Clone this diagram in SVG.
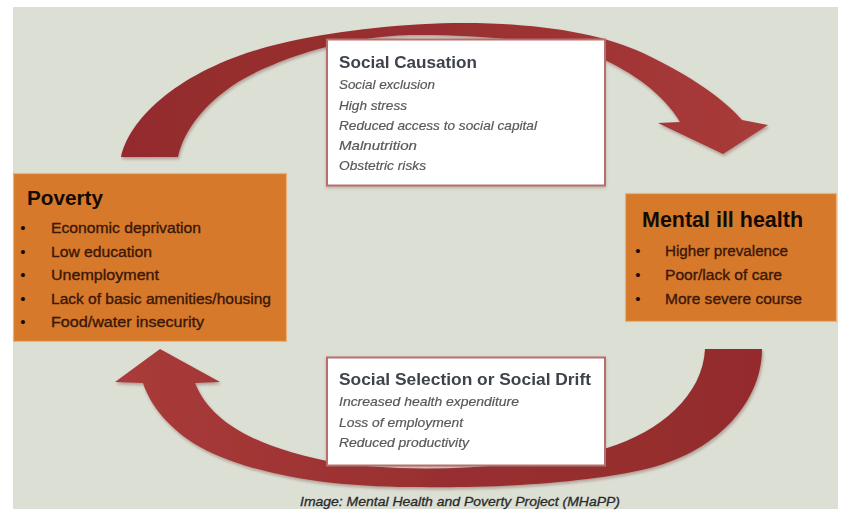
<svg xmlns="http://www.w3.org/2000/svg" width="841" height="517" viewBox="0 0 841 517">
  <defs>
    <linearGradient id="bandTop" x1="0" y1="0" x2="1" y2="0">
      <stop offset="0" stop-color="#942c2d"/>
      <stop offset="0.5" stop-color="#992f30"/>
      <stop offset="1" stop-color="#a93b3a"/>
    </linearGradient>
    <linearGradient id="bandBottom" x1="1" y1="0" x2="0" y2="0">
      <stop offset="0" stop-color="#942c2d"/>
      <stop offset="0.5" stop-color="#992f30"/>
      <stop offset="1" stop-color="#a93b3a"/>
    </linearGradient>
    <filter id="soft" x="-10%" y="-10%" width="120%" height="120%">
      <feDropShadow dx="1" dy="2" stdDeviation="1.5" flood-color="#5a2020" flood-opacity="0.35"/>
    </filter>
    <filter id="boxShadow" x="-5%" y="-5%" width="110%" height="115%">
      <feDropShadow dx="0" dy="1.5" stdDeviation="1.5" flood-color="#6b4a40" flood-opacity="0.3"/>
    </filter>
  </defs>
  <style>
    .panel { fill: #dcdfd4; }
    .orange { fill: #d7792a; stroke: #e9b27e; stroke-width: 1.2; }
    .card { fill: #ffffff; stroke: #b76e6c; stroke-width: 2; }
    .band { stroke: none; }
    .head { font-family: "Liberation Sans", Arial, sans-serif; font-weight: bold; }
    .orangeHead { fill: #140a04; }
    .cardHead { fill: #3e434c; }
    .item { font-family: "Liberation Sans", Arial, sans-serif; font-size: 15.5px; fill: #3a1708; stroke: #3a1708; stroke-width: 0.35; }
    .bullet { font-family: "Liberation Sans", Arial, sans-serif; font-size: 15px; fill: #140a04; text-anchor: middle; }
    .note { font-family: "Liberation Sans", Arial, sans-serif; font-style: italic; font-size: 13.5px; fill: #58585c; stroke: #58585c; stroke-width: 0.2; }
    .caption { font-family: "Liberation Sans", Arial, sans-serif; font-style: italic; font-size: 13px; fill: #2a2a2c; stroke: #2a2a2c; stroke-width: 0.3; }
  </style>

  <rect x="0" y="0" width="841" height="517" fill="#ffffff"/>
  <rect class="panel" x="13" y="7" width="825" height="502"/>

  <g id="connectors">
    <!-- causation arc: poverty towards mental ill health -->
    <path id="arrow-causation" class="band" fill="url(#bandTop)" filter="url(#soft)"
      d="M 121,157 C 132,110 195,62 287,42 C 340,30 410,23 463,23 C 540,23 600,33 643,53 C 690,75 725,100 742,120 L 768,125 L 723,154 L 658,123 L 680,122 C 665,97 640,77 605,60 C 565,42 480,34 410,35 C 340,37 275,60 238,82 C 205,103 184,130 178,157 Z"/>
    <!-- selection / drift arc: mental ill health back to poverty -->
    <path id="arrow-selection" class="band" fill="url(#bandBottom)" filter="url(#soft)"
      d="M 705,349 L 762,349 C 762,400 720,450 650,468 C 580,485 480,488 420,487 C 330,488 250,474 200,447 C 170,430 150,405 143,383 L 115,382 L 160,349 L 220,382 L 195,383 C 210,420 250,445 327,461 C 400,474 520,470 607,448 C 660,432 703,395 705,349 Z"/>
  </g>

  <g id="poverty">
    <rect class="orange" x="13.5" y="173.5" width="273" height="168"/>
    <text class="head orangeHead" x="27" y="205" font-size="20.5" textLength="76" lengthAdjust="spacingAndGlyphs">Poverty</text>
    <text class="bullet" x="23" y="233">•</text>
    <text class="item" x="51" y="233" textLength="150" lengthAdjust="spacingAndGlyphs">Economic deprivation</text>
    <text class="bullet" x="23" y="256.5">•</text>
    <text class="item" x="51" y="256.5" textLength="101" lengthAdjust="spacingAndGlyphs">Low education</text>
    <text class="bullet" x="23" y="280">•</text>
    <text class="item" x="51" y="280" textLength="108" lengthAdjust="spacingAndGlyphs">Unemployment</text>
    <text class="bullet" x="23" y="303.5">•</text>
    <text class="item" x="51" y="303.5" textLength="220" lengthAdjust="spacingAndGlyphs">Lack of basic amenities/housing</text>
    <text class="bullet" x="23" y="327">•</text>
    <text class="item" x="51" y="327" textLength="153" lengthAdjust="spacingAndGlyphs">Food/water insecurity</text>
  </g>

  <g id="mental-ill-health">
    <rect class="orange" x="625.5" y="193.5" width="211" height="128"/>
    <text class="head orangeHead" x="642" y="227" font-size="21.5" textLength="161" lengthAdjust="spacingAndGlyphs">Mental ill health</text>
    <text class="bullet" x="638" y="256">•</text>
    <text class="item" x="665" y="256" textLength="123" lengthAdjust="spacingAndGlyphs">Higher prevalence</text>
    <text class="bullet" x="638" y="280">•</text>
    <text class="item" x="665" y="280" textLength="117" lengthAdjust="spacingAndGlyphs">Poor/lack of care</text>
    <text class="bullet" x="638" y="303.5">•</text>
    <text class="item" x="665" y="303.5" textLength="137" lengthAdjust="spacingAndGlyphs">More severe course</text>
  </g>

  <g id="social-causation" filter="url(#boxShadow)">
    <rect class="card" x="327" y="39.5" width="278" height="146"/>
    <text class="head cardHead" x="339" y="68" font-size="17" textLength="138" lengthAdjust="spacingAndGlyphs">Social Causation</text>
    <text class="note" x="339" y="89" textLength="96" lengthAdjust="spacingAndGlyphs">Social exclusion</text>
    <text class="note" x="339" y="109.5" textLength="68" lengthAdjust="spacingAndGlyphs">High stress</text>
    <text class="note" x="339" y="130" textLength="198" lengthAdjust="spacingAndGlyphs">Reduced access to social capital</text>
    <text class="note" x="339" y="150" textLength="78" lengthAdjust="spacingAndGlyphs">Malnutrition</text>
    <text class="note" x="339" y="170" textLength="87" lengthAdjust="spacingAndGlyphs">Obstetric risks</text>
  </g>

  <g id="social-selection" filter="url(#boxShadow)">
    <rect class="card" x="327" y="357.5" width="278" height="108"/>
    <text class="head cardHead" x="339" y="385" font-size="17" textLength="252" lengthAdjust="spacingAndGlyphs">Social Selection or Social Drift</text>
    <text class="note" x="339" y="406" textLength="180" lengthAdjust="spacingAndGlyphs">Increased health expenditure</text>
    <text class="note" x="339" y="427" textLength="124" lengthAdjust="spacingAndGlyphs">Loss of employment</text>
    <text class="note" x="339" y="447" textLength="130" lengthAdjust="spacingAndGlyphs">Reduced productivity</text>
  </g>

  <text class="caption" x="300" y="506" textLength="320" lengthAdjust="spacingAndGlyphs">Image: Mental Health and Poverty Project (MHaPP)</text>
</svg>
